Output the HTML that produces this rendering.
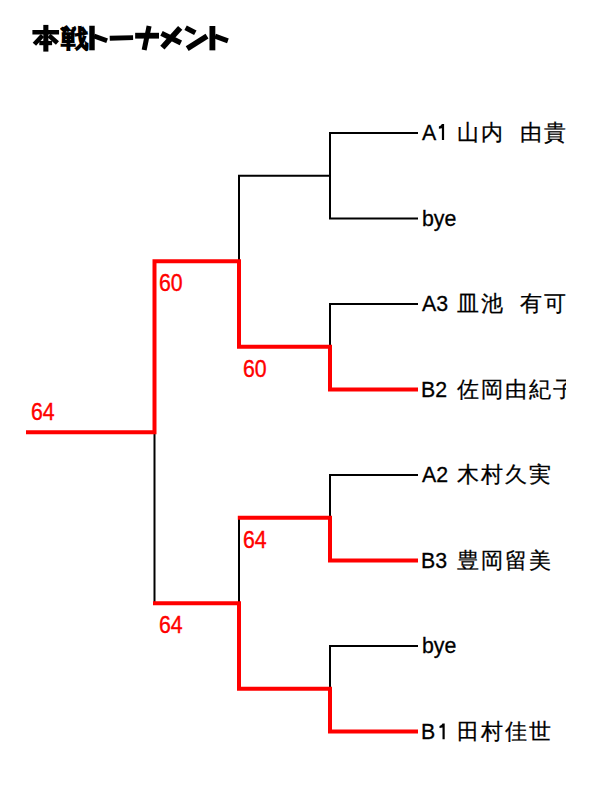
<!DOCTYPE html>
<html><head><meta charset="utf-8"><style>
html,body{margin:0;padding:0;background:#fff;width:600px;height:800px;overflow:hidden}
body{position:relative;font-family:"Liberation Sans",sans-serif}
.t,.j,.n{position:absolute;font-size:22px;line-height:22px;white-space:nowrap;color:#000}
.j{letter-spacing:2px;-webkit-text-stroke:0.25px #000}
.t{transform:scale(0.97,1.0);transform-origin:0 18px}
.n{transform:scale(0.97,1.08);transform-origin:0 10.5px}
.n{color:#f00;-webkit-text-stroke:0.35px #f00}
.t{-webkit-text-stroke:0.3px #000}
.clip{position:absolute;left:0;top:0;width:566px;height:800px;overflow:hidden}
.tc{position:absolute;font-size:28px;line-height:28px;font-weight:bold;-webkit-text-stroke:2.5px #000;white-space:nowrap;transform-origin:0 0}
</style></head><body>
<div class="tc" style="left:61.48px;top:25.90px;transform:scale(0.9828,0.8966);font-weight:normal;-webkit-text-stroke:2.0px #000">戦</div><svg width="600" height="800" style="position:absolute;left:0;top:0"><line x1="32.4" y1="32.25" x2="59.07" y2="32.25" stroke="#000" stroke-width="4.5"/><line x1="45.85" y1="24.9" x2="45.85" y2="51.6" stroke="#000" stroke-width="5.1"/><line x1="42.5" y1="35.5" x2="34.4" y2="44.25" stroke="#000" stroke-width="4.6"/><line x1="49" y1="35.5" x2="57.45" y2="42.95" stroke="#000" stroke-width="4.6"/><line x1="39.3" y1="43.05" x2="52.1" y2="43.05" stroke="#000" stroke-width="4.3"/><line x1="92.0" y1="25.75" x2="92.0" y2="50.3" stroke="#000" stroke-width="5.45"/><line x1="94" y1="36" x2="107.1" y2="40.75" stroke="#000" stroke-width="5"/><line x1="109.75" y1="38.25" x2="133.1" y2="37.6" stroke="#000" stroke-width="4.9"/><line x1="135.15" y1="35.7" x2="159" y2="35.7" stroke="#000" stroke-width="5.8"/><line x1="149.1" y1="26" x2="144.15" y2="49.9" stroke="#000" stroke-width="5"/><line x1="180.2" y1="27.8" x2="162.4" y2="47.65" stroke="#000" stroke-width="5.7"/><line x1="161.5" y1="33.3" x2="180.85" y2="42.9" stroke="#000" stroke-width="5.3"/><line x1="185.6" y1="27.8" x2="195.3" y2="32.8" stroke="#000" stroke-width="5.2"/><line x1="187.2" y1="48.55" x2="207" y2="36.2" stroke="#000" stroke-width="5.5"/><line x1="212.4" y1="26" x2="212.4" y2="50.35" stroke="#000" stroke-width="5.85"/><line x1="215" y1="36.2" x2="227.9" y2="40.9" stroke="#000" stroke-width="5"/></svg>
<svg width="600" height="800" viewBox="0 0 600 800" style="position:absolute;left:0;top:0"><path d="M418,133 L330,133 L330,218.5 L418,218.5" fill="none" stroke="#000" stroke-width="2" stroke-linejoin="miter"/><path d="M330,175.75 L239,175.75 L239,261.25" fill="none" stroke="#000" stroke-width="2" stroke-linejoin="miter"/><path d="M418,304 L330,304 L330,346.75" fill="none" stroke="#000" stroke-width="2" stroke-linejoin="miter"/><path d="M418,475 L330,475 L330,517.75" fill="none" stroke="#000" stroke-width="2" stroke-linejoin="miter"/><path d="M418,646 L330,646 L330,688.75" fill="none" stroke="#000" stroke-width="2" stroke-linejoin="miter"/><path d="M154.5,432.25 L154.5,604.25" fill="none" stroke="#000" stroke-width="2" stroke-linejoin="miter"/><path d="M239,518.75 L239,603.25" fill="none" stroke="#000" stroke-width="2" stroke-linejoin="miter"/><path d="M418,389.5 L330,389.5 L330,346.75 L239,346.75 L239,261.25 L154.5,261.25 L154.5,432.25 L26,432.25" fill="none" stroke="#f00" stroke-width="4" stroke-linejoin="miter"/><path d="M418,560.5 L330,560.5 L330,517.75 L237.8,517.75" fill="none" stroke="#f00" stroke-width="4" stroke-linejoin="miter"/><path d="M418,731.5 L330,731.5 L330,688.75 L239,688.75 L239,603.25 L153,603.25" fill="none" stroke="#f00" stroke-width="4" stroke-linejoin="miter"/></svg>
<div class="clip">
<div class="t" style="left:422px;top:122px">A</div>
<div class="j" style="left:457px;top:122.1px">山内</div>
<div class="j" style="left:520px;top:122.1px">由貴</div>
<div class="t" style="left:422px;top:207.5px">bye</div>
<div class="t" style="left:422px;top:293px">A3</div>
<div class="j" style="left:457px;top:293.1px">皿池</div>
<div class="j" style="left:520px;top:293.1px">有可</div>
<div class="t" style="left:421.4px;top:378.5px">B2</div>
<div class="j" style="left:457px;top:378.6px">佐岡由紀子</div>
<div class="t" style="left:422px;top:464px">A2</div>
<div class="j" style="left:457px;top:464.1px">木村久実</div>
<div class="t" style="left:421.4px;top:549.5px">B3</div>
<div class="j" style="left:457px;top:549.6px">豊岡留美</div>
<div class="t" style="left:422px;top:635px">bye</div>
<div class="t" style="left:421.4px;top:720.5px">B</div>
<div class="j" style="left:457px;top:720.6px">田村佳世</div>
<div class="n" style="left:158.6px;top:272.4px">60</div>
<div class="n" style="left:243.2px;top:357.85px">60</div>
<div class="n" style="left:30.7px;top:400.75px">64</div>
<div class="n" style="left:243.2px;top:529.1px">64</div>
<div class="n" style="left:158.6px;top:614.3px">64</div>
</div>
<svg width="600" height="800" style="position:absolute;left:0;top:0"><path transform="translate(0,0)" d="M441.9,124.1 L444.1,124.1 L444.1,140 L441.9,140 L441.9,128.2 Q440.8,128.5 438.9,128.7 L438.9,126.6 Q441.2,126 441.9,124.1 Z" fill="#000"/><path transform="translate(0.6,599.3)" d="M441.9,124.1 L444.1,124.1 L444.1,140 L441.9,140 L441.9,128.2 Q440.8,128.5 438.9,128.7 L438.9,126.6 Q441.2,126 441.9,124.1 Z" fill="#000"/></svg>
</body></html>
